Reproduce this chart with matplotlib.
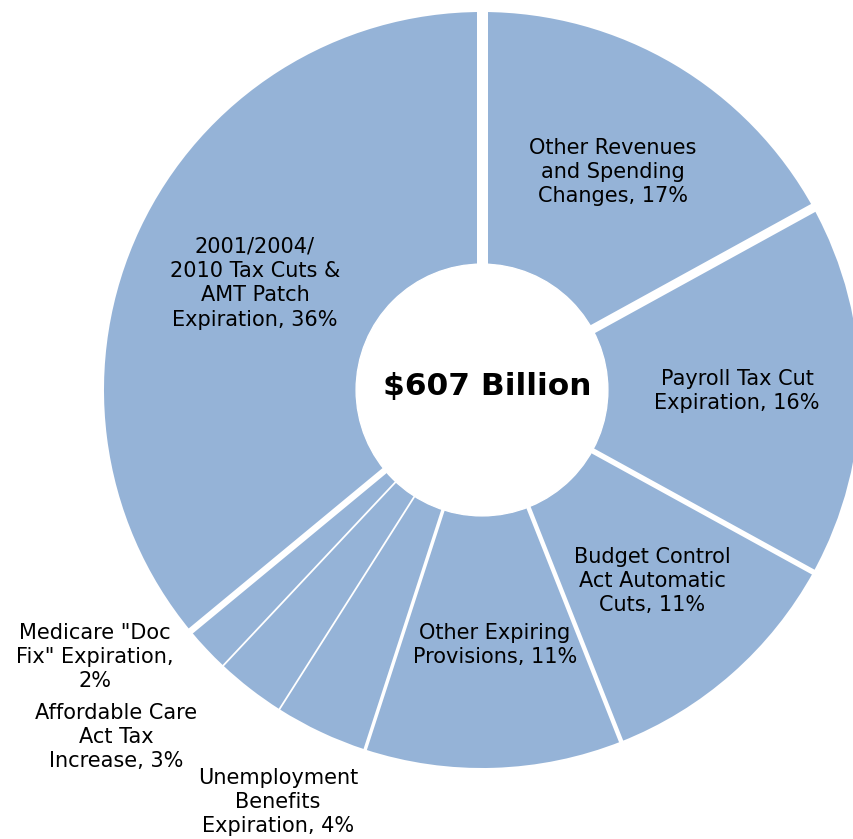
import numpy as np
import matplotlib
matplotlib.use("Agg")
from matplotlib import pyplot as plt

# share of the $607 billion, clockwise from 12 o'clock
labels = ["Other Revenues\nand Spending\nChanges, 17%",
          "Payroll Tax Cut\nExpiration, 16%",
          "Budget Control\nAct Automatic\nCuts, 11%",
          "Other Expiring\nProvisions, 11%",
          "Unemployment\nBenefits\nExpiration, 4%",
          "Affordable Care\nAct Tax\nIncrease, 3%",
          "Medicare \"Doc\nFix\" Expiration,\n2%",
          "2001/2004/\n2010 Tax Cuts &\nAMT Patch\nExpiration, 36%"]
shares = [17, 16, 11, 11, 4, 3, 2, 36]
total_label = "$607 Billion"

W, H = 854, 839
cx, cy = 482, 390       # pie centre in pixels (from top-left)
R = 378.0               # outer radius in pixels
hole = 0.333
blue = "#95b3d7"

fig = plt.figure(figsize=(W / 100, H / 100), dpi=100)
ax = fig.add_axes([0, 0, 1, 1])

wedges, _ = ax.pie(shares, startangle=90, counterclock=False, radius=1.0,
                   colors=[blue] * len(shares),
                   wedgeprops=dict(width=1 - hole, linewidth=0))

# white separators between slices, thickness in px
gaps = [9, 5.5, 4.5, 3.5, 1.8, 1.8, 6.5, 11]   # gap at the clockwise end of each slice
ang = 90.0
for s, g in zip(shares, gaps):
    ang -= s * 3.6
    a = np.deg2rad(ang)
    ax.plot([0.2 * np.cos(a), 1.05 * np.cos(a)], [0.2 * np.sin(a), 1.05 * np.sin(a)],
            color="white", lw=g * 0.72, solid_capstyle="butt", zorder=3)

# white hole drawn over the separators
ax.add_patch(plt.Circle((0, 0), hole, color="white", zorder=4))

ax.set_aspect("auto")
ax.set_xlim(-cx / R, (W - cx) / R)
ax.set_ylim(-(H - cy) / R, cy / R)
ax.axis("off")


def px(x, y):
    return (x - cx) / R, (cy - y) / R


# label centres in pixels
label_pos = [(613, 172), (737, 391), (652, 581), (495, 645),
             (278, 802), (116, 737), (95, 657), (255, 283)]
for lab, (x, y) in zip(labels, label_pos):
    ax.text(*px(x, y), lab, ha="center", va="center", fontsize=15,
            family="DejaVu Sans", color="black", linespacing=1.28, zorder=5)

ax.text(*px(487, 386), total_label, ha="center", va="center", fontsize=22.5,
        fontweight="bold", family="DejaVu Sans", color="black", zorder=5)

fig.savefig("out.png", dpi=100)
